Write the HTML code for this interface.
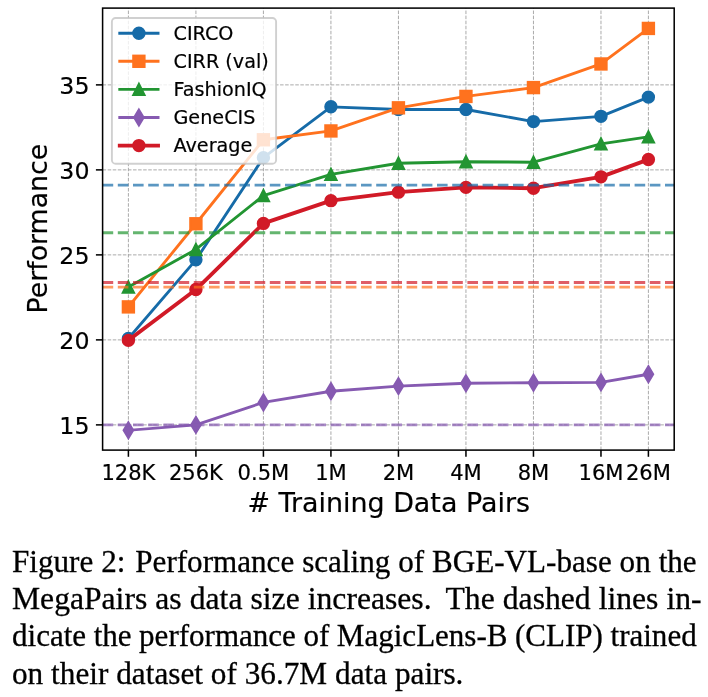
<!DOCTYPE html>
<html lang="en"><head><meta charset="utf-8"><title>Figure 2</title>
<style>
html,body{margin:0;padding:0;background:#fff}
body{position:relative;width:708px;height:697px;overflow:hidden}
.g{display:inline-block;height:1px}
.cl{position:absolute;left:12.4px;transform-origin:0 0;white-space:nowrap;font-family:"Liberation Serif","DejaVu Serif",serif;font-size:31.2px;line-height:31.2px;color:#000;margin:0;-webkit-text-stroke:0.3px #000}
</style></head><body>
<svg width="708" height="535" viewBox="0 0 708 535" style="position:absolute;left:0;top:0">
<defs><clipPath id="ax"><rect x="102.6" y="8.1" width="571.60" height="442.00"/></clipPath></defs>
<g stroke="#a6a6a6" stroke-width="0.96" stroke-dasharray="3.54 1.53" fill="none">
<path d="M128.40 450.1V8.1"/>
<path d="M195.91 450.1V8.1"/>
<path d="M263.42 450.1V8.1"/>
<path d="M330.93 450.1V8.1"/>
<path d="M398.44 450.1V8.1"/>
<path d="M465.95 450.1V8.1"/>
<path d="M533.46 450.1V8.1"/>
<path d="M600.97 450.1V8.1"/>
<path d="M648.40 450.1V8.1"/>
<path d="M102.6 424.88H674.2"/>
<path d="M102.6 339.88H674.2"/>
<path d="M102.6 254.88H674.2"/>
<path d="M102.6 169.88H674.2"/>
<path d="M102.6 84.88H674.2"/>
</g>
<g clip-path="url(#ax)">
<polyline points="128.40,338.52 195.91,259.81 263.42,157.64 330.93,106.81 398.44,109.53 465.95,109.53 533.46,121.60 600.97,116.33 648.40,97.12" fill="none" stroke="#166ba8" stroke-width="2.87" stroke-linejoin="round" stroke-linecap="square"/>
<circle cx="128.40" cy="338.52" r="5.74" fill="#166ba8" stroke="#166ba8" stroke-width="1.91"/>
<circle cx="195.91" cy="259.81" r="5.74" fill="#166ba8" stroke="#166ba8" stroke-width="1.91"/>
<circle cx="263.42" cy="157.64" r="5.74" fill="#166ba8" stroke="#166ba8" stroke-width="1.91"/>
<circle cx="330.93" cy="106.81" r="5.74" fill="#166ba8" stroke="#166ba8" stroke-width="1.91"/>
<circle cx="398.44" cy="109.53" r="5.74" fill="#166ba8" stroke="#166ba8" stroke-width="1.91"/>
<circle cx="465.95" cy="109.53" r="5.74" fill="#166ba8" stroke="#166ba8" stroke-width="1.91"/>
<circle cx="533.46" cy="121.60" r="5.74" fill="#166ba8" stroke="#166ba8" stroke-width="1.91"/>
<circle cx="600.97" cy="116.33" r="5.74" fill="#166ba8" stroke="#166ba8" stroke-width="1.91"/>
<circle cx="648.40" cy="97.12" r="5.74" fill="#166ba8" stroke="#166ba8" stroke-width="1.91"/>
<polyline points="128.40,306.90 195.91,223.77 263.42,139.79 330.93,130.95 398.44,107.83 465.95,96.44 533.46,87.60 600.97,63.97 648.40,28.44" fill="none" stroke="#ff721e" stroke-width="2.87" stroke-linejoin="round" stroke-linecap="square"/>
<rect x="122.66" y="301.16" width="11.47" height="11.47" fill="#ff721e" stroke="#ff721e" stroke-width="1.91" stroke-linejoin="miter"/>
<rect x="190.17" y="218.03" width="11.47" height="11.47" fill="#ff721e" stroke="#ff721e" stroke-width="1.91" stroke-linejoin="miter"/>
<rect x="257.68" y="134.05" width="11.47" height="11.47" fill="#ff721e" stroke="#ff721e" stroke-width="1.91" stroke-linejoin="miter"/>
<rect x="325.19" y="125.21" width="11.47" height="11.47" fill="#ff721e" stroke="#ff721e" stroke-width="1.91" stroke-linejoin="miter"/>
<rect x="392.70" y="102.09" width="11.47" height="11.47" fill="#ff721e" stroke="#ff721e" stroke-width="1.91" stroke-linejoin="miter"/>
<rect x="460.21" y="90.70" width="11.47" height="11.47" fill="#ff721e" stroke="#ff721e" stroke-width="1.91" stroke-linejoin="miter"/>
<rect x="527.72" y="81.86" width="11.47" height="11.47" fill="#ff721e" stroke="#ff721e" stroke-width="1.91" stroke-linejoin="miter"/>
<rect x="595.23" y="58.23" width="11.47" height="11.47" fill="#ff721e" stroke="#ff721e" stroke-width="1.91" stroke-linejoin="miter"/>
<rect x="642.66" y="22.70" width="11.47" height="11.47" fill="#ff721e" stroke="#ff721e" stroke-width="1.91" stroke-linejoin="miter"/>
<polyline points="128.40,287.01 195.91,249.44 263.42,195.55 330.93,174.30 398.44,163.25 465.95,161.72 533.46,162.23 600.97,143.87 648.40,136.90" fill="none" stroke="#229532" stroke-width="2.87" stroke-linejoin="round" stroke-linecap="square"/>
<path d="M128.40 281.27L122.66 292.75L134.14 292.75Z" fill="#229532" stroke="#229532" stroke-width="1.91" stroke-linejoin="miter"/>
<path d="M195.91 243.70L190.17 255.18L201.65 255.18Z" fill="#229532" stroke="#229532" stroke-width="1.91" stroke-linejoin="miter"/>
<path d="M263.42 189.81L257.68 201.29L269.16 201.29Z" fill="#229532" stroke="#229532" stroke-width="1.91" stroke-linejoin="miter"/>
<path d="M330.93 168.56L325.19 180.04L336.67 180.04Z" fill="#229532" stroke="#229532" stroke-width="1.91" stroke-linejoin="miter"/>
<path d="M398.44 157.51L392.70 168.99L404.18 168.99Z" fill="#229532" stroke="#229532" stroke-width="1.91" stroke-linejoin="miter"/>
<path d="M465.95 155.98L460.21 167.46L471.69 167.46Z" fill="#229532" stroke="#229532" stroke-width="1.91" stroke-linejoin="miter"/>
<path d="M533.46 156.49L527.72 167.97L539.20 167.97Z" fill="#229532" stroke="#229532" stroke-width="1.91" stroke-linejoin="miter"/>
<path d="M600.97 138.13L595.23 149.61L606.71 149.61Z" fill="#229532" stroke="#229532" stroke-width="1.91" stroke-linejoin="miter"/>
<path d="M648.40 131.16L642.66 142.64L654.14 142.64Z" fill="#229532" stroke="#229532" stroke-width="1.91" stroke-linejoin="miter"/>
<polyline points="128.40,430.32 195.91,424.88 263.42,402.44 330.93,391.22 398.44,386.12 465.95,383.23 533.46,382.72 600.97,382.38 648.40,374.22" fill="none" stroke="#865ab1" stroke-width="2.87" stroke-linejoin="round" stroke-linecap="square"/>
<path d="M128.40 422.21L133.27 430.32L128.40 438.43L123.53 430.32Z" fill="#865ab1" stroke="#865ab1" stroke-width="1.91" stroke-linejoin="miter"/>
<path d="M195.91 416.77L200.78 424.88L195.91 432.99L191.04 424.88Z" fill="#865ab1" stroke="#865ab1" stroke-width="1.91" stroke-linejoin="miter"/>
<path d="M263.42 394.33L268.29 402.44L263.42 410.55L258.55 402.44Z" fill="#865ab1" stroke="#865ab1" stroke-width="1.91" stroke-linejoin="miter"/>
<path d="M330.93 383.11L335.80 391.22L330.93 399.33L326.06 391.22Z" fill="#865ab1" stroke="#865ab1" stroke-width="1.91" stroke-linejoin="miter"/>
<path d="M398.44 378.01L403.31 386.12L398.44 394.23L393.57 386.12Z" fill="#865ab1" stroke="#865ab1" stroke-width="1.91" stroke-linejoin="miter"/>
<path d="M465.95 375.12L470.82 383.23L465.95 391.34L461.08 383.23Z" fill="#865ab1" stroke="#865ab1" stroke-width="1.91" stroke-linejoin="miter"/>
<path d="M533.46 374.61L538.33 382.72L533.46 390.83L528.59 382.72Z" fill="#865ab1" stroke="#865ab1" stroke-width="1.91" stroke-linejoin="miter"/>
<path d="M600.97 374.27L605.84 382.38L600.97 390.49L596.10 382.38Z" fill="#865ab1" stroke="#865ab1" stroke-width="1.91" stroke-linejoin="miter"/>
<path d="M648.40 366.11L653.27 374.22L648.40 382.33L643.53 374.22Z" fill="#865ab1" stroke="#865ab1" stroke-width="1.91" stroke-linejoin="miter"/>
<polyline points="128.40,340.39 195.91,289.56 263.42,223.43 330.93,200.65 398.44,192.15 465.95,187.39 533.46,188.24 600.97,176.85 648.40,159.51" fill="none" stroke="#d11a27" stroke-width="3.82" stroke-linejoin="round" stroke-linecap="square"/>
<circle cx="128.40" cy="340.39" r="5.74" fill="#d11a27" stroke="#d11a27" stroke-width="1.91"/>
<circle cx="195.91" cy="289.56" r="5.74" fill="#d11a27" stroke="#d11a27" stroke-width="1.91"/>
<circle cx="263.42" cy="223.43" r="5.74" fill="#d11a27" stroke="#d11a27" stroke-width="1.91"/>
<circle cx="330.93" cy="200.65" r="5.74" fill="#d11a27" stroke="#d11a27" stroke-width="1.91"/>
<circle cx="398.44" cy="192.15" r="5.74" fill="#d11a27" stroke="#d11a27" stroke-width="1.91"/>
<circle cx="465.95" cy="187.39" r="5.74" fill="#d11a27" stroke="#d11a27" stroke-width="1.91"/>
<circle cx="533.46" cy="188.24" r="5.74" fill="#d11a27" stroke="#d11a27" stroke-width="1.91"/>
<circle cx="600.97" cy="176.85" r="5.74" fill="#d11a27" stroke="#d11a27" stroke-width="1.91"/>
<circle cx="648.40" cy="159.51" r="5.74" fill="#d11a27" stroke="#d11a27" stroke-width="1.91"/>
<path d="M102.6 185.18H674.2" stroke="#166ba8" stroke-opacity="0.7" stroke-width="2.87" stroke-dasharray="10.61 4.59" fill="none"/>
<path d="M102.6 287.18H674.2" stroke="#ff721e" stroke-opacity="0.7" stroke-width="2.87" stroke-dasharray="10.61 4.59" fill="none"/>
<path d="M102.6 232.78H674.2" stroke="#229532" stroke-opacity="0.7" stroke-width="2.87" stroke-dasharray="10.61 4.59" fill="none"/>
<path d="M102.6 424.88H674.2" stroke="#865ab1" stroke-opacity="0.7" stroke-width="2.87" stroke-dasharray="10.61 4.59" fill="none"/>
<path d="M102.6 282.50H674.2" stroke="#d11a27" stroke-opacity="0.7" stroke-width="2.87" stroke-dasharray="10.61 4.59" fill="none"/>
</g>
<g stroke="#000" stroke-width="1.53">
<path d="M128.40 450.1v6.69"/>
<path d="M195.91 450.1v6.69"/>
<path d="M263.42 450.1v6.69"/>
<path d="M330.93 450.1v6.69"/>
<path d="M398.44 450.1v6.69"/>
<path d="M465.95 450.1v6.69"/>
<path d="M533.46 450.1v6.69"/>
<path d="M600.97 450.1v6.69"/>
<path d="M648.40 450.1v6.69"/>
<path d="M102.6 424.88h-6.69"/>
<path d="M102.6 339.88h-6.69"/>
<path d="M102.6 254.88h-6.69"/>
<path d="M102.6 169.88h-6.69"/>
<path d="M102.6 84.88h-6.69"/>
</g>
<rect x="102.6" y="8.1" width="571.60" height="442.00" fill="none" stroke="#000" stroke-width="1.53" stroke-linejoin="miter"/>
<g font-family="'DejaVu Sans','Liberation Sans',sans-serif" fill="#000" stroke="#000" stroke-width="0.2">
<text x="128.40" y="480.0" font-size="21.05" text-anchor="middle">128K</text>
<text x="195.91" y="480.0" font-size="21.05" text-anchor="middle">256K</text>
<text x="263.42" y="480.0" font-size="21.05" text-anchor="middle">0.5M</text>
<text x="330.93" y="480.0" font-size="21.05" text-anchor="middle">1M</text>
<text x="398.44" y="480.0" font-size="21.05" text-anchor="middle">2M</text>
<text x="465.95" y="480.0" font-size="21.05" text-anchor="middle">4M</text>
<text x="533.46" y="480.0" font-size="21.05" text-anchor="middle">8M</text>
<text x="600.97" y="480.0" font-size="21.05" text-anchor="middle">16M</text>
<text x="648.40" y="480.0" font-size="21.05" text-anchor="middle">26M</text>
<text x="89.5" y="433.73" font-size="23.7" text-anchor="end">15</text>
<text x="89.5" y="348.73" font-size="23.7" text-anchor="end">20</text>
<text x="89.5" y="263.73" font-size="23.7" text-anchor="end">25</text>
<text x="89.5" y="178.73" font-size="23.7" text-anchor="end">30</text>
<text x="89.5" y="93.73" font-size="23.7" text-anchor="end">35</text>
<text x="388.7" y="511.5" font-size="26.9" text-anchor="middle"># Training Data Pairs</text>
<text transform="translate(47.4 228.6) rotate(-90)" font-size="26.8" text-anchor="middle">Performance</text>
</g>
<rect x="111.9" y="18.0" width="164.20" height="145.80" rx="3.8" ry="3.8" fill="#fff" fill-opacity="0.8" stroke="#c4c4c4" stroke-opacity="0.8" stroke-width="1.91"/>
<path d="M119.75 33.2H158.05" stroke="#166ba8" stroke-width="2.87" stroke-linecap="square" fill="none"/>
<circle cx="138.90" cy="33.20" r="5.74" fill="#166ba8" stroke="#166ba8" stroke-width="1.91"/>
<text x="173.5" y="39.70" font-size="19.2" font-family="'DejaVu Sans','Liberation Sans',sans-serif" fill="#000" stroke="#000" stroke-width="0.2">CIRCO</text>
<path d="M119.75 61.3H158.05" stroke="#ff721e" stroke-width="2.87" stroke-linecap="square" fill="none"/>
<rect x="133.16" y="55.56" width="11.47" height="11.47" fill="#ff721e" stroke="#ff721e" stroke-width="1.91" stroke-linejoin="miter"/>
<text x="173.5" y="67.80" font-size="19.2" font-family="'DejaVu Sans','Liberation Sans',sans-serif" fill="#000" stroke="#000" stroke-width="0.2">CIRR (val)</text>
<path d="M119.75 89.4H158.05" stroke="#229532" stroke-width="2.87" stroke-linecap="square" fill="none"/>
<path d="M138.90 83.66L133.16 95.14L144.64 95.14Z" fill="#229532" stroke="#229532" stroke-width="1.91" stroke-linejoin="miter"/>
<text x="173.5" y="95.90" font-size="19.2" font-family="'DejaVu Sans','Liberation Sans',sans-serif" fill="#000" stroke="#000" stroke-width="0.2">FashionIQ</text>
<path d="M119.75 117.5H158.05" stroke="#865ab1" stroke-width="2.87" stroke-linecap="square" fill="none"/>
<path d="M138.90 109.39L143.77 117.50L138.90 125.61L134.03 117.50Z" fill="#865ab1" stroke="#865ab1" stroke-width="1.91" stroke-linejoin="miter"/>
<text x="173.5" y="124.00" font-size="19.2" font-family="'DejaVu Sans','Liberation Sans',sans-serif" fill="#000" stroke="#000" stroke-width="0.2">GeneCIS</text>
<path d="M119.75 145.6H158.05" stroke="#d11a27" stroke-width="3.82" stroke-linecap="square" fill="none"/>
<circle cx="138.90" cy="145.60" r="5.74" fill="#d11a27" stroke="#d11a27" stroke-width="1.91"/>
<text x="173.5" y="152.10" font-size="19.2" font-family="'DejaVu Sans','Liberation Sans',sans-serif" fill="#000" stroke="#000" stroke-width="0.2">Average</text>
</svg>
<div class="cl" id="c0" style="top:545.70px;word-spacing:0.150px;transform:scaleX(0.9975)">Figure 2:<span class="g" style="width:2.0px"></span> Performance scaling of BGE-VL-base on the</div>
<div class="cl" id="c1" style="top:582.50px;word-spacing:0.200px;transform:scaleX(1.0137)">MegaPairs as data size increases.<span class="g" style="width:6.4px"></span> The dashed lines in-</div>
<div class="cl" id="c2" style="top:620.30px;word-spacing:-0.200px;transform:scaleX(0.995)">dicate the performance of MagicLens-B (CLIP) trained</div>
<div class="cl" id="c3" style="top:657.50px;word-spacing:0.100px;transform:scaleX(1.001)">on their dataset of 36.7M data pairs.</div>
</body></html>
